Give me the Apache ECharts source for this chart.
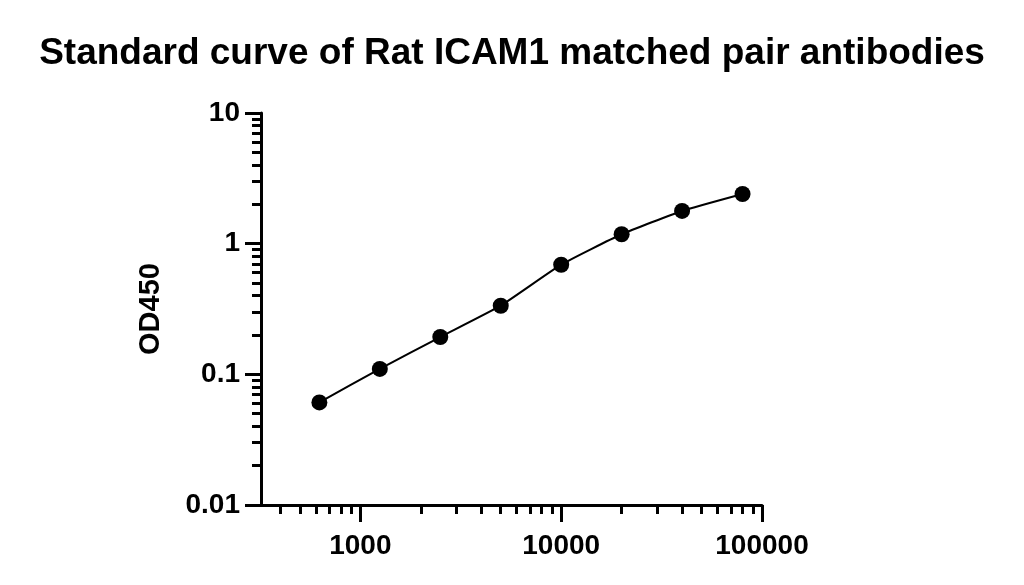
<!DOCTYPE html>
<html>
<head>
<meta charset="utf-8">
<script src="https://cdn.jsdelivr.net/npm/echarts@6/dist/echarts.min.js"></script>
<style>
	html, body {margin: 0; padding: 0; background: #fff;}
	#chart {width: 1024px; height: 585px;}
</style>
</head>
<body>
<div id="chart"></div>
<script>
// 浓度 (x) 与 OD450 (y)
var concentration = [625, 1250, 2500, 5000, 10000, 20000, 40000, 80000];
var od450 = [0.061, 0.110, 0.193, 0.335, 0.69, 1.18, 1.78, 2.40];

// 刻度
var xMajorTicks = [1000, 10000, 100000];
var xMinorTicks = [400, 500, 600, 700, 800, 900, 2000, 3000, 4000, 5000, 6000, 7000, 8000, 9000,
	20000, 30000, 40000, 50000, 60000, 70000, 80000, 90000];
var yMajorTicks = [0.01, 0.1, 1, 10];
var yMinorTicks = [0.02, 0.03, 0.04, 0.05, 0.06, 0.07, 0.08, 0.09,
	0.2, 0.3, 0.4, 0.5, 0.6, 0.7, 0.8, 0.9,
	2, 3, 4, 5, 6, 7, 8, 9];

var points = [];
for (var i = 0; i < concentration.length; i++) {
	points.push([concentration[i], od450[i]]);
}

var fontFamily = '"Liberation Sans", Arial, sans-serif';

var chart = echarts.init(document.getElementById('chart'));
var option = {
	animation: false,
	title: {
		text: 'Standard curve of Rat ICAM1 matched pair antibodies',
		left: 'center',
		top: 30,
		textStyle: {fontFamily: fontFamily, fontSize: 37, fontWeight: 'bold', color: '#000'}
	},
	grid: {left: 261, right: 262, top: 113, bottom: 80},
	xAxis: [
		{// 次刻度 + 轴线
			type: 'log', logBase: 10, min: 320, max: 100000,
			axisLine: {show: true, lineStyle: {color: '#000', width: 3}},
			axisTick: {show: true, length: 9, customValues: xMinorTicks, lineStyle: {color: '#000', width: 3}},
			axisLabel: {show: false},
			splitLine: {show: false}
		},
		{// 主刻度 + 标签
			type: 'log', logBase: 10, min: 320, max: 100000, position: 'bottom',
			axisLine: {show: false},
			axisTick: {show: true, length: 17, customValues: xMajorTicks, lineStyle: {color: '#000', width: 3}},
			axisLabel: {
				show: true, customValues: xMajorTicks, margin: 27,
				fontFamily: fontFamily, fontSize: 28, fontWeight: 'bold', color: '#000',
				formatter: function (v) { return String(Math.round(v)); }
			},
			splitLine: {show: false}
		}
	],
	yAxis: [
		{
			type: 'log', logBase: 10, min: 0.01, max: 10,
			name: 'OD450', nameLocation: 'middle', nameGap: 96, nameRotate: 90,
			nameTextStyle: {fontFamily: fontFamily, fontSize: 29, fontWeight: 'bold', color: '#000'},
			axisLine: {show: true, lineStyle: {color: '#000', width: 3}},
			axisTick: {show: true, length: 9, customValues: yMinorTicks, lineStyle: {color: '#000', width: 3}},
			axisLabel: {show: false},
			splitLine: {show: false}
		},
		{
			type: 'log', logBase: 10, min: 0.01, max: 10, position: 'left',
			axisLine: {show: false},
			axisTick: {show: true, length: 16, customValues: yMajorTicks, lineStyle: {color: '#000', width: 3}},
			axisLabel: {
				show: true, customValues: yMajorTicks, margin: 21,
				fontFamily: fontFamily, fontSize: 28, fontWeight: 'bold', color: '#000',
				formatter: function (v) { return String(v); }
			},
			splitLine: {show: false}
		}
	],
	series: [
		{
			type: 'line',
			xAxisIndex: 0,
			yAxisIndex: 0,
			data: points,
			smooth: 0.15,
			symbol: 'circle',
			symbolSize: 16,
			itemStyle: {color: '#000'},
			lineStyle: {color: '#000', width: 2}
		}
	]
};
chart.setOption(option);
</script>
</body>
</html>
